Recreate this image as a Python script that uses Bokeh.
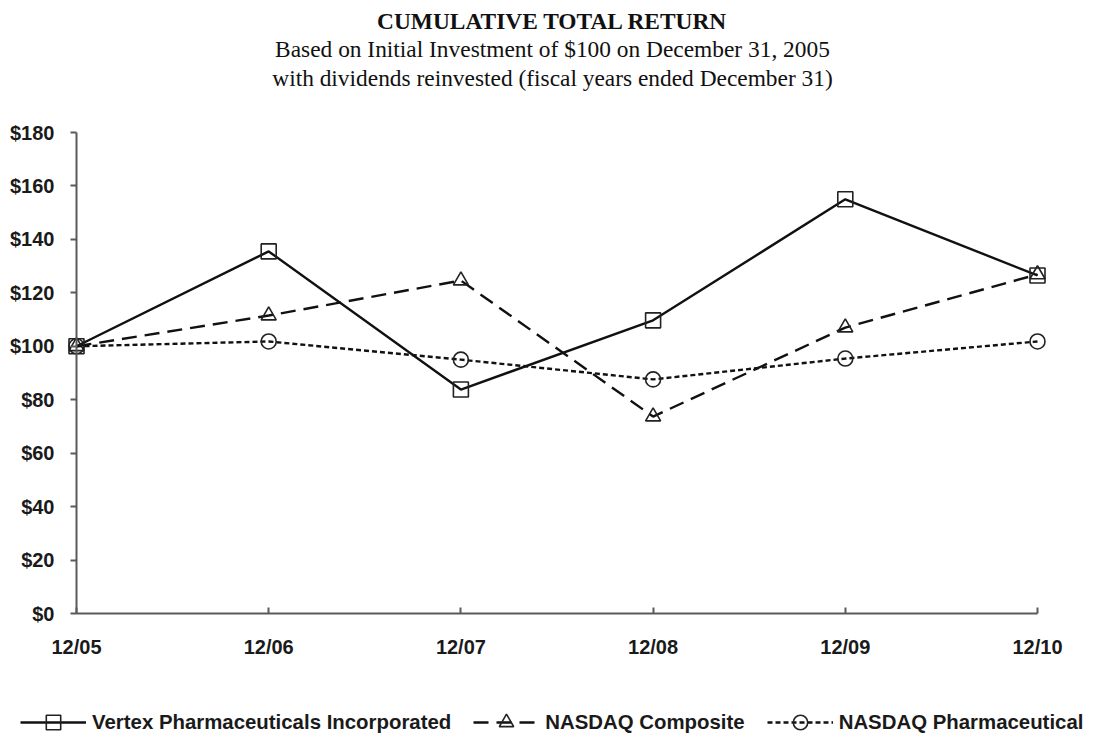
from bokeh.plotting import figure
from bokeh.models import (Range1d, FixedTicker, NumeralTickFormatter, Legend, LegendItem, Label)
from bokeh.embed import file_html
from bokeh.resources import INLINE

# ---- data ----
periods = ["12/05", "12/06", "12/07", "12/08", "12/09", "12/10"]
vertex = [100, 135.5, 83.8, 109.7, 155.0, 126.5]
nasdaq_composite = [100, 111.5, 124.6, 73.7, 107.0, 126.9]
nasdaq_pharma = [100, 101.8, 95.0, 87.6, 95.4, 101.8]
y_ticks = [0, 20, 40, 60, 80, 100, 120, 140, 160, 180]
series_names = ["Vertex Pharmaceuticals Incorporated", "NASDAQ Composite", "NASDAQ Pharmaceutical"]
title_lines = ["CUMULATIVE TOTAL RETURN",
               "Based on Initial Investment of $100 on December 31, 2005",
               "with dividends reinvested (fiscal years ended December 31)"]

W, H = 1096, 738
# pixel layout of the plotting area (canvas coordinates)
X0_PX, X1_PX = 76, 1037      # first / last period
Y0_PX, Y1_PX = 613, 132      # $0 / $180
n = len(periods)
xs = list(range(n))
kx = (X1_PX - X0_PX) / (n - 1)
ky = (Y0_PX - Y1_PX) / 180.0

x_range = Range1d(-X0_PX / kx, (n - 1) + (W - X1_PX) / kx)
y_range = Range1d(-(H - Y0_PX) / ky, 180 + Y1_PX / ky)

p = figure(width=W, height=H, output_backend="svg", toolbar_location=None,
           x_range=x_range, y_range=y_range,
           min_border_left=0, min_border_right=0, min_border_top=0, min_border_bottom=0)
p.outline_line_color = None
p.xgrid.grid_line_color = None
p.ygrid.grid_line_color = None
p.background_fill_color = "white"
p.border_fill_color = "white"

axis_color = "#5a5a5a"
# y axis
p.yaxis.fixed_location = 0
p.yaxis.bounds = (0, 180)
p.yaxis.ticker = FixedTicker(ticks=y_ticks)
p.yaxis.formatter = NumeralTickFormatter(format="$0")
p.yaxis.axis_line_color = axis_color
p.yaxis.axis_line_width = 2
p.yaxis.major_tick_line_color = axis_color
p.yaxis.major_tick_line_width = 2
p.yaxis.major_tick_out = 6
p.yaxis.major_tick_in = 0
p.yaxis.minor_tick_line_color = None
p.yaxis.major_label_standoff = 16
p.yaxis.major_label_text_font = "Liberation Sans"
p.yaxis.major_label_text_font_style = "bold"
p.yaxis.major_label_text_font_size = "20px"
p.yaxis.major_label_text_color = "#1a1a1a"

# x axis
p.xaxis.fixed_location = 0
p.xaxis.bounds = (0, n - 1)
p.xaxis.ticker = FixedTicker(ticks=xs)
p.xaxis.major_label_overrides = {i: lab for i, lab in zip(xs, periods)}
p.xaxis.axis_line_color = axis_color
p.xaxis.axis_line_width = 2
p.xaxis.major_tick_line_color = axis_color
p.xaxis.major_tick_line_width = 2
p.xaxis.major_tick_out = 0
p.xaxis.major_tick_in = 6
p.xaxis.minor_tick_line_color = None
p.xaxis.major_label_standoff = 22
p.xaxis.major_label_text_font = "Liberation Sans"
p.xaxis.major_label_text_font_style = "bold"
p.xaxis.major_label_text_font_size = "20px"
p.xaxis.major_label_text_color = "#1a1a1a"

# series
specs = [
    (vertex, "solid", "square"),
    (nasdaq_composite, "15 8", "triangle"),
    (nasdaq_pharma, "5 3", "circle"),
]
items = []
for (vals, dash, marker), name in zip(specs, series_names):
    lr = p.line(xs, vals, line_color="#111111", line_width=2.4, line_dash=dash)
    sr = p.scatter(xs, vals, marker=marker, size=15, fill_color=None,
                   line_color="#222222", line_width=1.6)
    items.append(LegendItem(label=name, renderers=[lr, sr]))

legend = Legend(items=items, orientation="horizontal", location=(20, -2),
                glyph_width=66, glyph_height=36, label_standoff=6, spacing=22,
                padding=0, margin=0, border_line_color=None, background_fill_alpha=0,
                label_text_font="Liberation Sans", label_text_font_style="bold",
                label_text_font_size="20.4px", label_text_color="#1a1a1a")
p.add_layout(legend)

# titles (centred at canvas x=552, rows at y=20, 48.5, 77)
title_x = (552 - X0_PX) / kx
for i, t in enumerate(title_lines):
    row_px = 20 + 28.5 * i
    p.add_layout(Label(x=title_x, y=(Y0_PX - row_px) / ky, text=t,
                       text_align="center", text_baseline="middle",
                       text_font="Liberation Serif", text_font_size="23.4px",
                       text_font_style="bold" if i == 0 else "normal",
                       text_color="#111111"))

open("out.html", "w").write(file_html(p, INLINE))
